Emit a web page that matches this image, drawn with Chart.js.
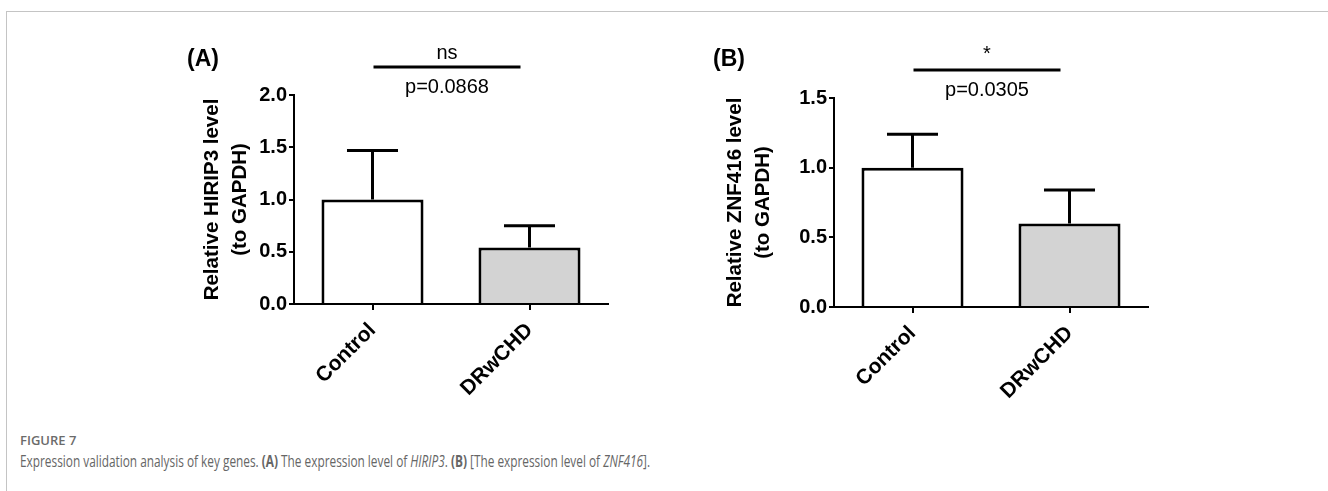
<!DOCTYPE html>
<html>
<head>
<meta charset="utf-8">
<script src="https://cdn.jsdelivr.net/npm/chart.js@4/dist/chart.umd.min.js"></script>
<style>
  html, body { margin: 0; padding: 0; background: #fff; }
  body { width: 1328px; height: 491px; position: relative; overflow: hidden; font-family: Arial, "Liberation Sans", sans-serif; }
  .frame { position: absolute; left: 6px; top: 11px; right: -10px; bottom: -10px; border-top: 1px solid #c4c4c4; border-left: 1px solid #c4c4c4; }
  .panel { position: absolute; top: 0; width: 480px; height: 430px; }
  #panel-a { left: 150px; }
  #panel-b { left: 690px; }
  .caption { position: absolute; left: 20px; top: 430px; color: #666; font-family: "Open Sans", "Noto Sans", sans-serif; }
  .caption .fig { font-size: 13px; font-weight: 600; color: #6b6b6b; line-height: 20px; }
  .caption .txt { font-size: 16px; line-height: 22px; white-space: nowrap; transform: scaleX(0.74); transform-origin: left center; }
</style>
</head>
<body>
<div class="frame"></div>
<div class="panel" id="panel-a"><canvas id="chart-a" width="480" height="430"></canvas></div>
<div class="panel" id="panel-b"><canvas id="chart-b" width="480" height="430"></canvas></div>
<div class="caption">
  <div class="fig">FIGURE 7</div>
  <div class="txt">Expression validation analysis of key genes. <b>(A)</b> The expression level of <i>HIRIP3</i>. <b>(B)</b> [The expression level of <i>ZNF416</i>].</div>
</div>
<script>
const categories = ['Control', 'DRwCHD'];
const hirip3Mean = [1.0, 0.54];
const hirip3Err = [0.47, 0.21];
const znf416Mean = [1.0, 0.60];
const znf416Err = [0.24, 0.24];
const barColors = ['#ffffff', '#d3d3d3'];

const FONT = 'Arial, "Liberation Sans", Helvetica, sans-serif';

// error bars (upper only) + significance bracket + panel letter
const extrasPlugin = {
  id: 'extras',
  afterDatasetsDraw(chart, args, opts) {
    const ctx = chart.ctx;
    const meta = chart.getDatasetMeta(0);
    const y = chart.scales.y;
    const x = chart.scales.x;
    const means = chart.data.datasets[0].data;
    ctx.save();
    ctx.strokeStyle = '#000';
    ctx.lineWidth = 3;
    meta.data.forEach((bar, i) => {
      const top = y.getPixelForValue(means[i] + opts.errors[i]);
      const half = bar.width / 4;
      ctx.beginPath();
      ctx.moveTo(bar.x, bar.y);
      ctx.lineTo(bar.x, top);
      ctx.moveTo(bar.x - half, top);
      ctx.lineTo(bar.x + half, top);
      ctx.stroke();
    });

    const area = chart.chartArea;
    const x0 = x.getPixelForValue(0) + 1;
    const x1 = x.getPixelForValue(1) - 9;
    const ly = area.top - 28;
    ctx.beginPath();
    ctx.moveTo(x0, ly);
    ctx.lineTo(x1, ly);
    ctx.stroke();

    ctx.fillStyle = '#000';
    ctx.textAlign = 'center';
    ctx.textBaseline = 'middle';
    ctx.font = '20px ' + FONT;
    ctx.fillText(opts.sig, (x0 + x1) / 2, ly + opts.sigDy);
    ctx.fillText(opts.p, (x0 + x1) / 2, area.top - 8);

    ctx.textAlign = 'left';
    ctx.font = 'bold 23px ' + FONT;
    ctx.fillText(opts.letter, opts.letterX, 60);
    ctx.restore();
  }
};

function makeChart(id, means, errors, maxY, title, titlePad, topPad, xHeight, extras) {
  return new Chart(document.getElementById(id), {
    type: 'bar',
    data: {
      labels: categories,
      datasets: [{
        data: means,
        backgroundColor: barColors,
        borderColor: '#000',
        borderWidth: 3,
        barPercentage: 0.65,
        categoryPercentage: 1.0
      }]
    },
    options: {
      responsive: false,
      animation: false,
      layout: { padding: { left: 0, top: topPad, right: 22, bottom: 0 } },
      plugins: {
        legend: { display: false },
        tooltip: { enabled: false },
        extras: Object.assign({ errors: errors }, extras)
      },
      scales: {
        x: {
          offset: true,
          grid: { display: true, offset: false, drawOnChartArea: false, drawTicks: true, tickLength: 6, color: '#000', lineWidth: 2 },
          border: { display: true, color: '#000', width: 2 },
          ticks: { color: '#000', font: { family: FONT, size: 21, weight: 'bold' }, minRotation: 45, maxRotation: 45, padding: 8 },
          afterFit: s => { s.height = xHeight; }
        },
        y: {
          min: 0,
          max: maxY,
          grid: { display: true, drawOnChartArea: false, drawTicks: true, tickLength: 5, color: '#000', lineWidth: 2 },
          border: { display: true, color: '#000', width: 2 },
          ticks: { stepSize: 0.5, color: '#000', padding: 2, font: { family: FONT, size: 20, weight: 'bold' }, callback: v => v.toFixed(1) },
          title: { display: true, text: title, color: '#000', font: { family: FONT, size: 20.5, weight: 'bold', lineHeight: 1.37 }, padding: { top: titlePad, bottom: 0 } },
          afterFit: s => { s.width = 144; }
        }
      }
    },
    plugins: [extrasPlugin]
  });
}

makeChart('chart-a', hirip3Mean, hirip3Err, 2.0, ['Relative HIRIP3 level', '(to GAPDH)'], 48, 95, 126,
  { sig: 'ns', sigDy: -14, p: 'p=0.0868', letter: '(A)', letterX: 37 });
makeChart('chart-b', znf416Mean, znf416Err, 1.5, ['Relative ZNF416 level', '(to GAPDH)'], 31, 98, 123,
  { sig: '*', sigDy: -16, p: 'p=0.0305', letter: '(B)', letterX: 23 });
</script>
</body>
</html>
